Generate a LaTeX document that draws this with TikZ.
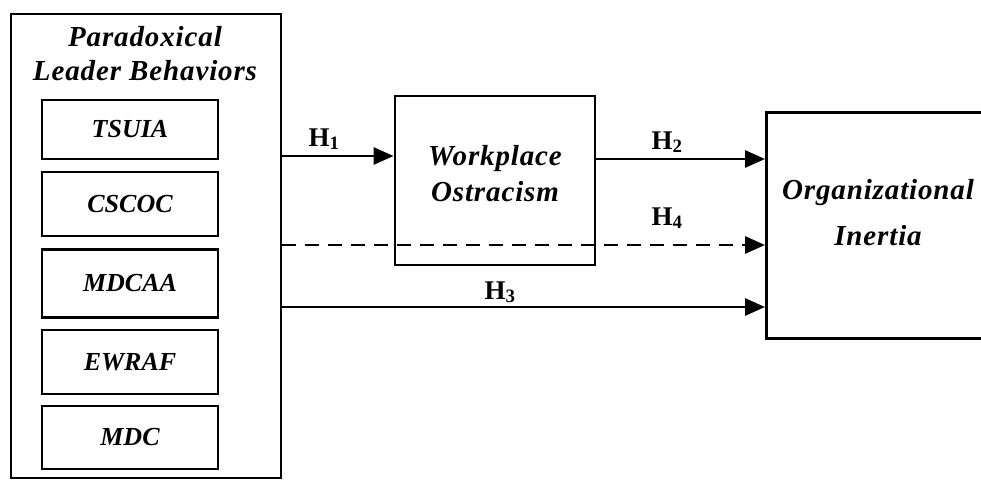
\documentclass[tikz,border=0pt]{standalone}
\usepackage{fontspec}
\setmainfont{Liberation Serif}
\usetikzlibrary{arrows.meta}
\tikzset{
  box/.style={draw, line width=2.9pt, inner sep=0pt},
  conn/.style={line width=2.9pt, -{Triangle[length=20pt,width=17pt]}},
  dconn/.style={conn, dash pattern=on 14pt off 9pt},
  big/.style={font=\fontsize{29}{38}\selectfont\bfseries\itshape\addfontfeature{LetterSpace=3}, align=center},
  small/.style={font=\fontsize{26}{30}\selectfont\bfseries\itshape},
  hlab/.style={font=\fontsize{27}{30}\selectfont\bfseries, inner sep=0pt, anchor=base}
}
\begin{document}
\begin{tikzpicture}[x=1pt,y=-1pt]
\useasboundingbox (0,0) rectangle (981,480);
\clip (0,0) rectangle (981,480);
% outer left box
\node[box, minimum width=270pt, minimum height=464pt, anchor=north west] (plb) at (9.5,12.5) {};
\node[big] (plbt) at (145,54) {Paradoxical\\[-4pt]Leader Behaviors};
% inner boxes
\node[box, minimum width=176pt, minimum height=59pt] (b1) at (130,129.5) {};
\node[small] at (b1) {TSUIA};
\node[box, minimum width=176pt, minimum height=64pt] (b2) at (130,204) {};
\node[small] at (b2) {CSCOC};
\node[box, minimum width=176pt, minimum height=68pt] (b3) at (130,283.5) {};
\node[small] at (b3) {MDCAA};
\node[box, minimum width=176pt, minimum height=64pt] (b4) at (130,362) {};
\node[small] at (b4) {EWRAF};
\node[box, minimum width=176pt, minimum height=63pt] (b5) at (130,437.5) {};
\node[small] at (b5) {MDC};
% workplace ostracism
\node[box, minimum width=200pt, minimum height=169pt] (wo) at (495,180.5) {};
\node[big] at (495,174) {Workplace\\[-2pt]Ostracism};
% organizational inertia
\node[box, minimum width=240pt, minimum height=226pt, anchor=north west] (oi) at (765,111) {};
\node[big] at (878,213) {Organizational\\[8pt]Inertia};
% connectors
\coordinate (s1) at (plb.east |- 0,156);
\coordinate (s4) at (plb.east |- 0,245);
\coordinate (s3) at (plb.east |- 0,307);
\draw[conn] (s1) -- (wo.west |- s1);
\draw[conn] (wo.east |- 0,159) -- (oi.west |- 0,159);
\draw[dconn] (s4) -- (oi.west |- s4);
\draw[conn] (s3) -- (oi.west |- s3);
% labels
\node[hlab] (h1) at (324,146) {H\textsubscript{1}};
\node[hlab] (h2) at (667,149) {H\textsubscript{2}};
\node[hlab] (h4) at (667,225) {H\textsubscript{4}};
\node[hlab] (h3) at (500,299) {H\textsubscript{3}};
\end{tikzpicture}
\end{document}
